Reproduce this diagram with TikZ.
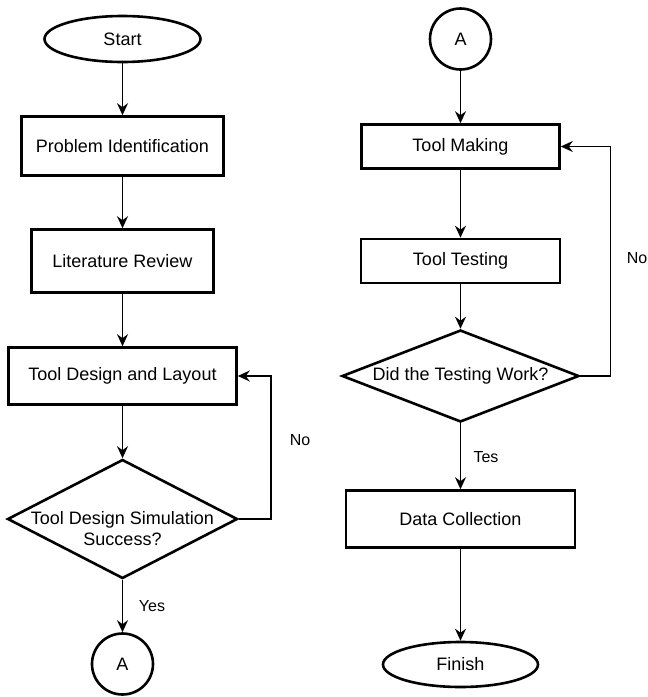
\documentclass[tikz,border=0pt]{standalone}
\usepackage{fontspec}
\setmainfont{Liberation Sans}
\usetikzlibrary{shapes.geometric,arrows.meta}

\begin{document}
\begin{tikzpicture}[x=1pt,y=-1pt,
    every node/.style={font=\fontsize{18}{21}\selectfont},
    box/.style={draw,line width=2.6pt,rectangle,inner sep=0pt},
    terminal/.style={draw,line width=2.6pt,ellipse,inner sep=0pt},
    offpage/.style={draw,line width=2.6pt,circle,inner sep=0pt,minimum size=61pt},
    decision/.style={draw,line width=2.6pt,diamond,inner sep=0pt},
    flow/.style={line width=1.5pt,-{Stealth[length=12pt,width=11pt,inset=4pt]}},
    branch/.style={font=\fontsize{16}{19}\selectfont}]
    \useasboundingbox (0,0) rectangle (648,697);

    \node[terminal,minimum width=156pt,minimum height=46pt] (start) at (122.5,39) {Start};
    \node[box,minimum width=202pt,minimum height=59pt] (problem) at (122.5,146) {Problem Identification};
    \node[box,minimum width=182pt,minimum height=63pt] (review) at (122.5,261) {Literature Review};
    \node[box,minimum width=228pt,minimum height=57pt] (design) at (122.5,376) {Tool Design and Layout};
    \node[decision,minimum width=230pt,minimum height=119pt,
        label={[align=center,yshift=-10pt]center:Tool Design Simulation\\Success?}] (simulation) at (122.5,519) {};
    \node[offpage] (goA) at (122.5,664) {A};

    \node[offpage] (fromA) at (460.5,39) {A};
    \node[box,minimum width=198pt,minimum height=44pt] (making) at (460.5,146.5) {Tool Making};
    \node[box,minimum width=199pt,minimum height=44pt] (testing) at (460.5,261) {Tool Testing};
    \node[decision,minimum width=237pt,minimum height=92pt,
        label={center:Did the Testing Work?}] (works) at (460.5,376) {};
    \node[box,minimum width=229pt,minimum height=57pt] (collection) at (460.5,519) {Data Collection};
    \node[terminal,minimum width=155pt,minimum height=45pt] (finish) at (460.5,664.5) {Finish};

    \draw[flow] (start.south) -- (problem.north);
    \draw[flow] (problem.south) -- (review.north);
    \draw[flow] (review.south) -- (design.north);
    \draw[flow] (design.south) -- (simulation.north);
    \draw[flow] (simulation.south) -- (goA.north);
    \draw[flow] (simulation.east) -- ++(32,0) |- (design.east);

    \draw[flow] (fromA.south) -- (making.north);
    \draw[flow] (making.south) -- (testing.north);
    \draw[flow] (testing.south) -- (works.north);
    \draw[flow] (works.south) -- (collection.north);
    \draw[flow] (collection.south) -- (finish.north);
    \draw[flow] (works.east) -- ++(30,0) |- (making.east);

    \node[branch] (noDesign) at (300,440) {No};
    \node[branch] (yesSim) at (152,606) {Yes};
    \node[branch] (yesTest) at (486,457) {Tes};
    \node[branch] (noTest) at (637,258) {No};
\end{tikzpicture}
\end{document}
